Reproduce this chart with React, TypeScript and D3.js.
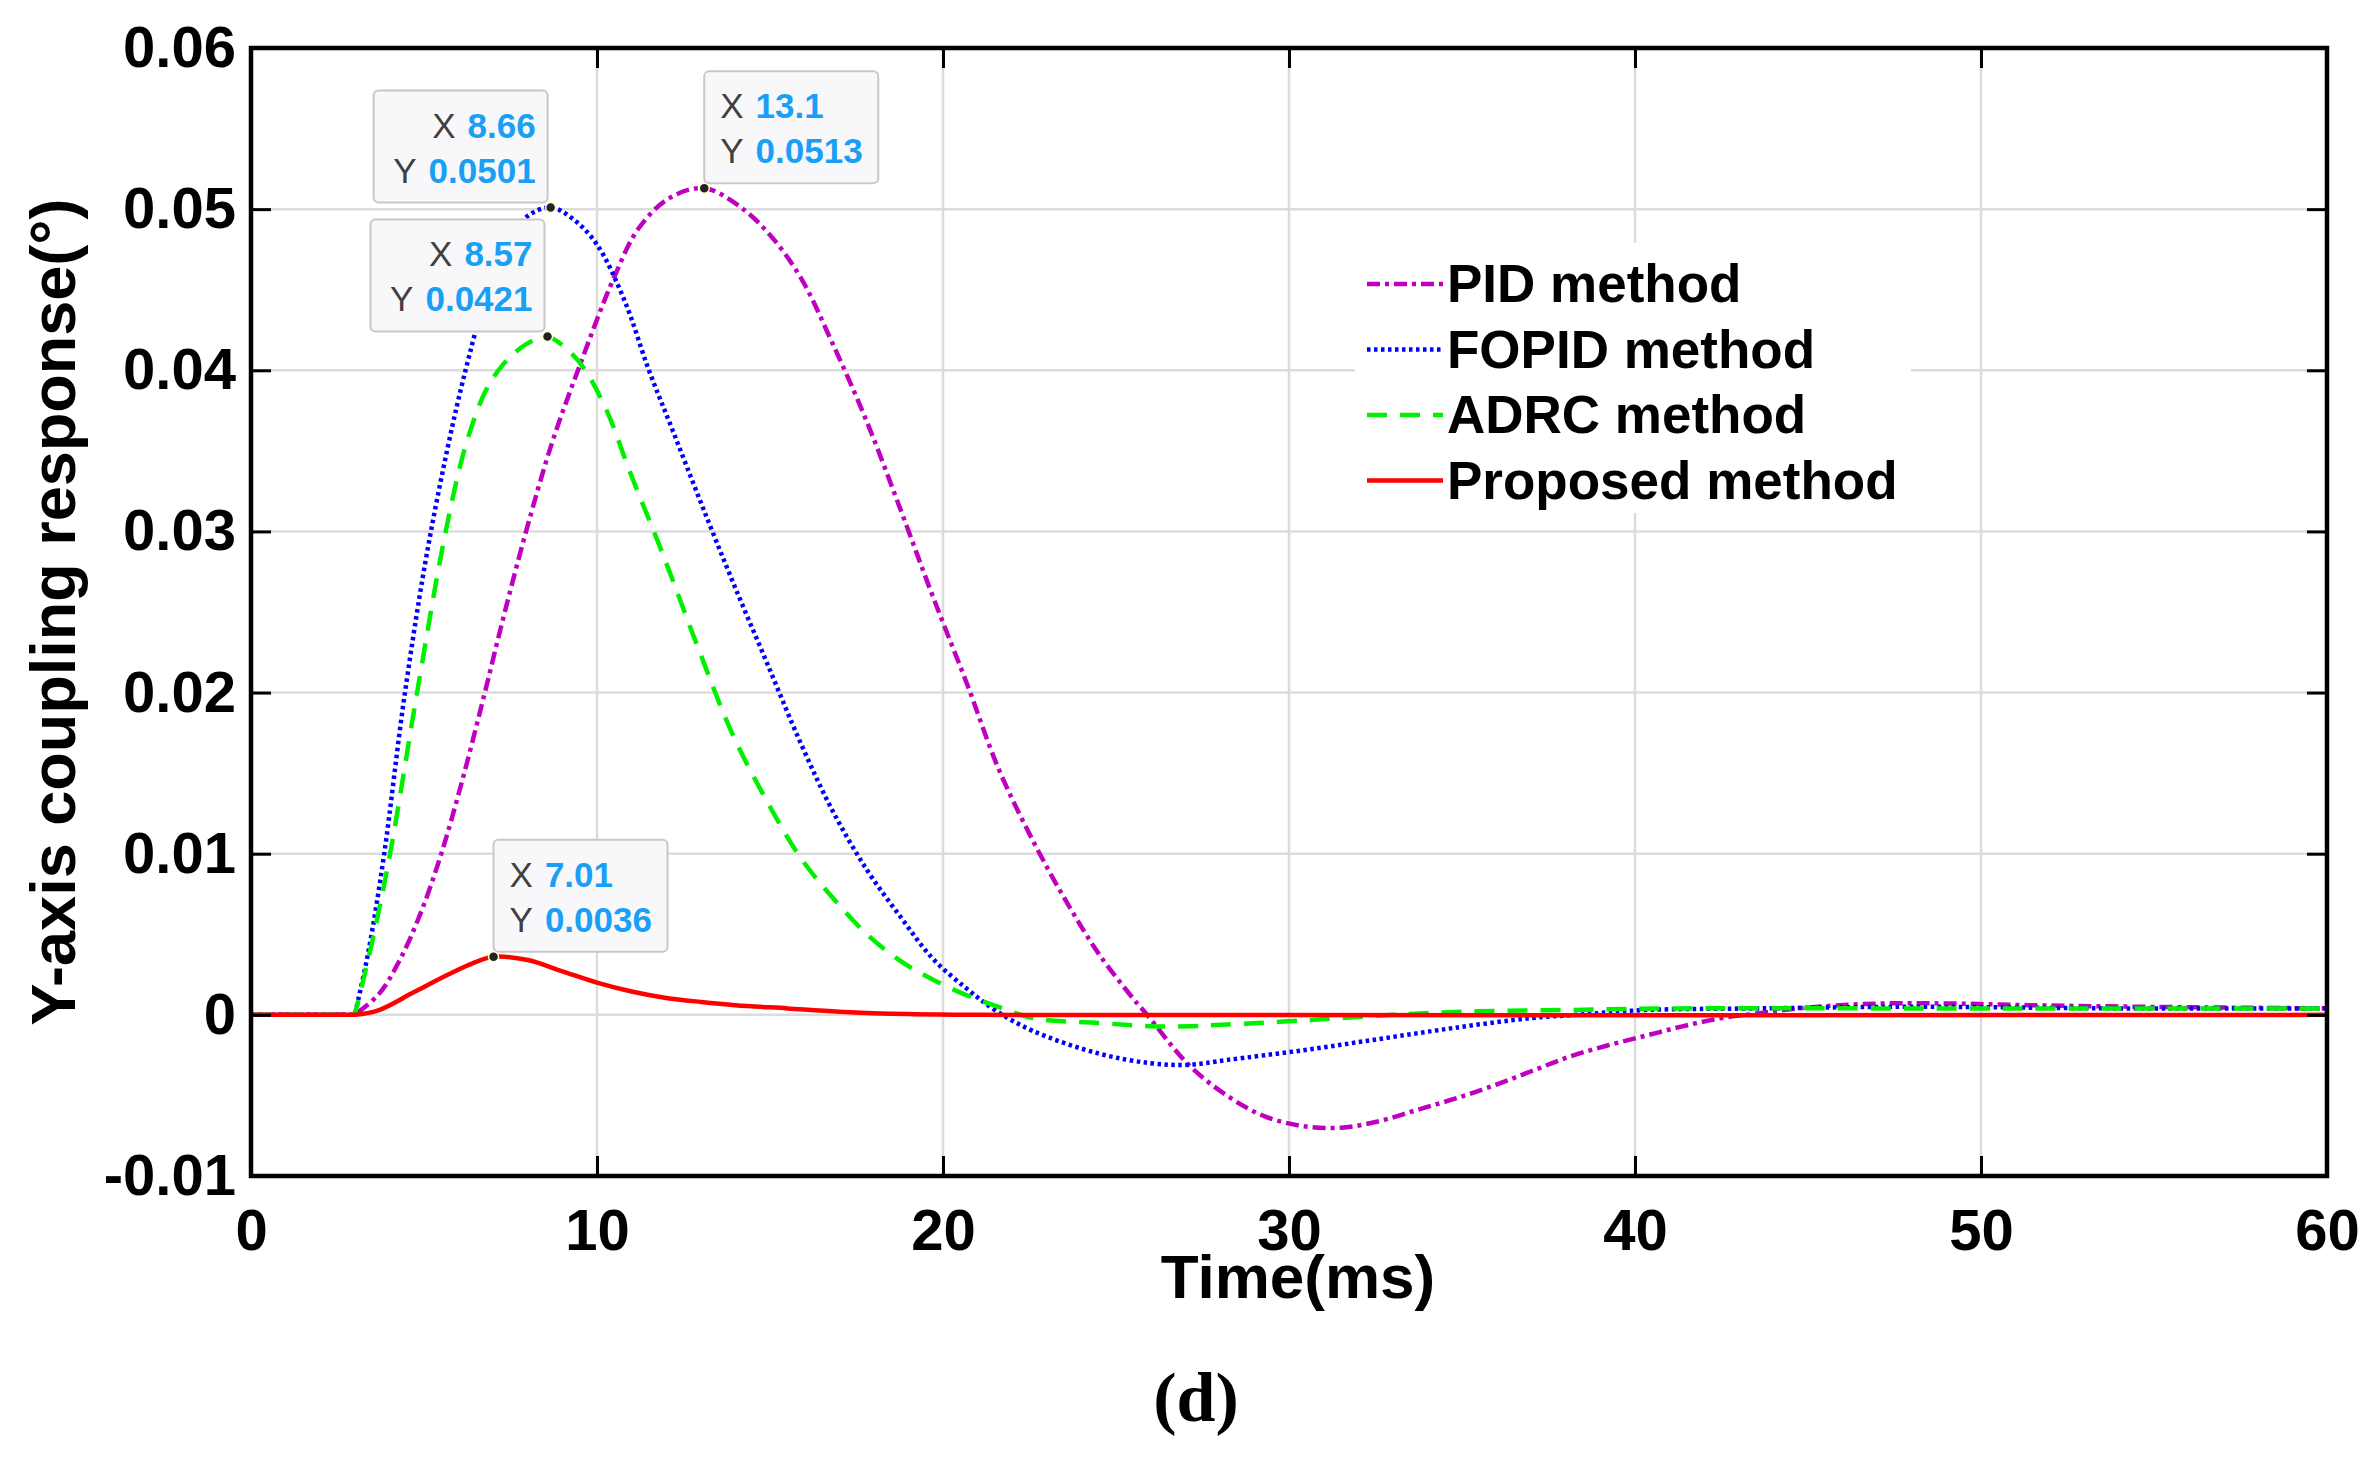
import React, { useEffect, useRef } from 'react';
import * as d3 from 'd3';

const W = 2369;
const H = 1460;
const FONT = '"Liberation Sans", Arial, Helvetica, sans-serif';

// axis ticks
const xTicks = [0, 10, 20, 30, 40, 50, 60];
const yTicks = [-0.01, 0, 0.01, 0.02, 0.03, 0.04, 0.05, 0.06];
const yTickLabels = ['-0.01', '0', '0.01', '0.02', '0.03', '0.04', '0.05', '0.06'];

// PID method
const pidT = [0, 3, 3.7, 4.3, 4.9, 5.5, 6.1, 6.7, 7.3, 7.95, 8.7, 9.45, 10.5, 11.2, 12.1, 13.1, 14.1, 15.0, 15.9, 16.8,
  17.8, 18.8, 19.7, 20.7, 21.6, 22.6, 23.6, 24.5, 25.5, 25.9, 27.1, 28.2, 29.3, 30.4, 31.5, 32.6, 33.7, 34.8, 35.9, 37,
  38.1, 39.2, 40.3, 41.4, 42.5, 43.6, 44.7, 47, 49.2, 51.4, 54.7, 60];
const pidV = [0, 0, 0.0013, 0.0034, 0.0063, 0.01, 0.0145, 0.0195, 0.0247, 0.03, 0.0355, 0.04, 0.0458, 0.0488, 0.0507, 0.0513, 0.0502, 0.0484, 0.0457, 0.0417,
  0.0368, 0.0312, 0.026, 0.0205, 0.0153, 0.0108, 0.0069, 0.0038, 0.001, 0, -0.0031, -0.005, -0.0063, -0.0069, -0.007, -0.0066, -0.0059, -0.0052, -0.0044, -0.0035,
  -0.0026, -0.0019, -0.0013, -0.0007, -0.0002, 0.0001, 0.0004, 0.0007, 0.0007, 0.0006, 0.0005, 0.0004];

// FOPID method
const fopidT = [0, 3, 3.4, 3.85, 4.45, 5.2, 6.2, 7.0, 7.9, 8.66, 9.3, 10, 10.8, 11.5, 12.2, 13, 13.9, 14.9, 15.9, 16.8,
  17.8, 18.8, 19.7, 20.7, 21.5, 22.6, 24.5, 26, 27.1, 28.2, 30.4, 32.6, 34.8, 37, 38.3, 40.3, 43.6, 48, 54, 60];
const fopidV = [0, 0, 0.004, 0.01, 0.02, 0.03, 0.04, 0.0458, 0.0494, 0.0501, 0.0494, 0.0478, 0.0443, 0.04, 0.0362, 0.0318, 0.027, 0.0219, 0.0168, 0.0127,
  0.009, 0.006, 0.0035, 0.0016, 0.0003, -0.001, -0.0024, -0.003, -0.0031, -0.0028, -0.0022, -0.0015, -0.0008, -0.0002, 0, 0.0003, 0.0004, 0.0005, 0.0004, 0.0004];

// ADRC method
const adrcT = [0, 3, 3.5, 4.02, 4.8, 5.6, 6.2, 6.8, 7.3, 7.8, 8.2, 8.57, 9.03, 9.6, 10.28, 10.95, 11.9, 12.9, 13.9, 14.9,
  15.9, 16.8, 17.8, 18.8, 19.7, 20.7, 21.6, 22.6, 24.5, 26, 27.2, 28.2, 30.4, 33, 35, 38, 41.4, 48, 54, 60];
const adrcV = [0, 0, 0.0045, 0.01, 0.02, 0.0297, 0.0353, 0.0388, 0.0404, 0.0414, 0.0419, 0.0421, 0.0415, 0.0402, 0.0375, 0.0337, 0.0286, 0.0229, 0.0175, 0.0133,
  0.0097, 0.0073, 0.005, 0.0033, 0.0022, 0.0012, 0.0005, -0.0002, -0.0005, -0.0007, -0.0007, -0.0006, -0.00035, 0, 0.0002, 0.0003, 0.0004, 0.0004, 0.0004, 0.0004];

// Proposed method
const propT = [0, 3, 3.7, 4.7, 5.7, 6.4, 7.01, 8.0, 9.0, 10, 11, 12, 13, 14, 15.5, 17, 19, 21, 60];
const propV = [0, 0, 0.0003, 0.0014, 0.0025, 0.0032, 0.0036, 0.0034, 0.0027, 0.002, 0.00145, 0.00105, 0.0008, 0.0006, 0.0004, 0.0002, 0.00005, 0, 0];

const seriesNames = ['PID method', 'FOPID method', 'ADRC method', 'Proposed method'];
const seriesT = [pidT, fopidT, adrcT, propT];
const seriesV = [pidV, fopidV, adrcV, propV];
const seriesColors = ['#bf00bf', '#0000ff', '#00f000', '#ff0000'];
const seriesDash = ['13,5,4,5', '3.5,3.5', '20,13', null];

// data tips
const tipX = [8.66, 8.57, 13.1, 7.01];
const tipY = [0.0501, 0.0421, 0.0513, 0.0036];
const tipXText = ['8.66', '8.57', '13.1', '7.01'];
const tipYText = ['0.0501', '0.0421', '0.0513', '0.0036'];
const tipLeft = [true, true, false, false];

const App = () => {
  const svgRef = useRef<SVGSVGElement>(null);

  useEffect(() => {
    const svg = d3.select(svgRef.current);
    svg.selectAll('*').remove();

    const left = 251, right = 2327, top = 48, bottom = 1176;

    const x = d3.scaleLinear().domain([0, 60]).range([left, right]);
    const y = d3.scaleLinear().domain([-0.01, 0.06]).range([bottom, top]);

    svg.append('rect').attr('width', W).attr('height', H).attr('fill', '#fff');

    // grid
    const grid = svg.append('g').attr('stroke', '#dcdcdc').attr('stroke-width', 2.5);
    grid.selectAll('line.gx').data(xTicks).join('line')
      .attr('class', 'gx')
      .attr('x1', d => x(d)).attr('x2', d => x(d)).attr('y1', top).attr('y2', bottom);
    grid.selectAll('line.gy').data(yTicks).join('line')
      .attr('class', 'gy')
      .attr('x1', left).attr('x2', right).attr('y1', d => y(d)).attr('y2', d => y(d));

    svg.append('clipPath').attr('id', 'plot-clip')
      .append('rect').attr('x', left).attr('y', top).attr('width', right - left).attr('height', bottom - top);

    // curves: flat lead-in up to the step at t=3, then a smooth curve
    const gen = d3.line().curve(d3.curveCatmullRom.alpha(0.5));
    const curves = svg.append('g').attr('clip-path', 'url(#plot-clip)');
    seriesNames.forEach((name, s) => {
      const pts = seriesT[s].map((t, i) => [x(t), y(seriesV[s][i])] as [number, number]);
      const tail = gen(pts.slice(1)) as string;
      const d = `M${pts[0][0]},${pts[0][1]}L${tail.slice(1)}`;
      const p = curves.append('path')
        .attr('d', d)
        .attr('fill', 'none')
        .attr('stroke', seriesColors[s])
        .attr('stroke-width', 4.5)
        .attr('stroke-linejoin', 'round');
      if (seriesDash[s]) p.attr('stroke-dasharray', seriesDash[s] as string);
    });

    // axes with inward ticks
    const styleAxis = (g: any) => {
      g.select('.domain').remove();
      g.selectAll('line').attr('stroke', '#000').attr('stroke-width', 3);
      g.selectAll('text')
        .attr('font-size', 58)
        .attr('font-weight', 'bold')
        .attr('font-family', FONT)
        .attr('fill', '#000');
    };

    svg.append('g')
      .attr('transform', `translate(0,${bottom})`)
      .call(d3.axisBottom(x).tickValues(xTicks).tickSizeInner(-20).tickSizeOuter(0).tickPadding(33).tickFormat(d3.format('d')))
      .call(styleAxis);

    svg.append('g')
      .attr('transform', `translate(${left},0)`)
      .call(d3.axisLeft(y).tickValues(yTicks).tickSizeInner(-20).tickSizeOuter(0).tickPadding(15)
        .tickFormat((_, i) => yTickLabels[i]))
      .call(styleAxis);

    svg.append('g')
      .attr('transform', `translate(0,${top})`)
      .call(d3.axisTop(x).tickValues(xTicks).tickSizeInner(-20).tickSizeOuter(0).tickFormat(() => ''))
      .call(styleAxis);

    svg.append('g')
      .attr('transform', `translate(${right},0)`)
      .call(d3.axisRight(y).tickValues(yTicks).tickSizeInner(-20).tickSizeOuter(0).tickFormat(() => ''))
      .call(styleAxis);

    svg.append('rect')
      .attr('x', left).attr('y', top).attr('width', right - left).attr('height', bottom - top)
      .attr('fill', 'none').attr('stroke', '#000').attr('stroke-width', 4.5);

    // axis titles
    svg.append('text')
      .attr('x', 1298).attr('y', 1298)
      .attr('text-anchor', 'middle')
      .attr('font-family', FONT).attr('font-weight', 'bold').attr('font-size', 62)
      .text('Time(ms)');

    svg.append('text')
      .attr('transform', `translate(75,${(top + bottom) / 2}) rotate(-90)`)
      .attr('text-anchor', 'middle')
      .attr('font-family', FONT).attr('font-weight', 'bold').attr('font-size', 63)
      .text('Y-axis coupling response(°)');

    svg.append('text')
      .attr('x', 1196).attr('y', 1421)
      .attr('text-anchor', 'middle')
      .attr('font-family', '"Liberation Serif", "Times New Roman", serif').attr('font-weight', 'bold').attr('font-size', 70)
      .text('(d)');

    // legend
    const legend = svg.append('g');
    legend.append('rect').attr('x', 1355).attr('y', 243).attr('width', 556).attr('height', 270).attr('fill', '#fff');
    seriesNames.forEach((name, s) => {
      const cy = 284 + s * 65.5;
      const l = legend.append('line')
        .attr('x1', 1367).attr('x2', 1443).attr('y1', cy).attr('y2', cy)
        .attr('stroke', seriesColors[s]).attr('stroke-width', 4.5);
      if (seriesDash[s]) l.attr('stroke-dasharray', seriesDash[s] as string);
      legend.append('text')
        .attr('x', 1447).attr('y', cy + 18)
        .attr('font-family', FONT).attr('font-weight', 'bold').attr('font-size', 53)
        .text(name);
    });

    // data tips
    const bw = 174, bh = 112;
    tipX.forEach((tx, i) => {
      const px = x(tx), py = y(tipY[i]);
      const bx = tipLeft[i] ? px - 3 - bw : px;
      const by = py - 5 - bh;
      const g = svg.append('g');
      g.append('rect')
        .attr('x', bx).attr('y', by).attr('width', bw).attr('height', bh).attr('rx', 5)
        .attr('fill', '#f8f8fb').attr('stroke', '#c8c8c8').attr('stroke-width', 2);
      const rows: [string, string][] = [['X', tipXText[i]], ['Y', tipYText[i]]];
      rows.forEach(([lab, val], r) => {
        const t = g.append('text')
          .attr('x', tipLeft[i] ? bx + bw - 12 : bx + 16)
          .attr('y', by + 47 + r * 45)
          .attr('text-anchor', tipLeft[i] ? 'end' : 'start')
          .attr('font-family', FONT).attr('font-size', 35);
        t.append('tspan').attr('fill', '#404040').text(lab);
        t.append('tspan').attr('dx', 12).attr('fill', '#1a9ff5').attr('font-weight', 'bold').text(val);
      });
      g.append('circle').attr('cx', px).attr('cy', py).attr('r', 5)
        .attr('fill', '#222').attr('stroke', '#ffffc8').attr('stroke-width', 1.5);
    });
  }, []);

  return (
    <div style={{ position: 'absolute', left: 0, top: 0, width: W, height: H, background: '#fff' }}>
      <svg ref={svgRef} width={W} height={H} style={{ display: 'block' }} />
    </div>
  );
};

export default App;
